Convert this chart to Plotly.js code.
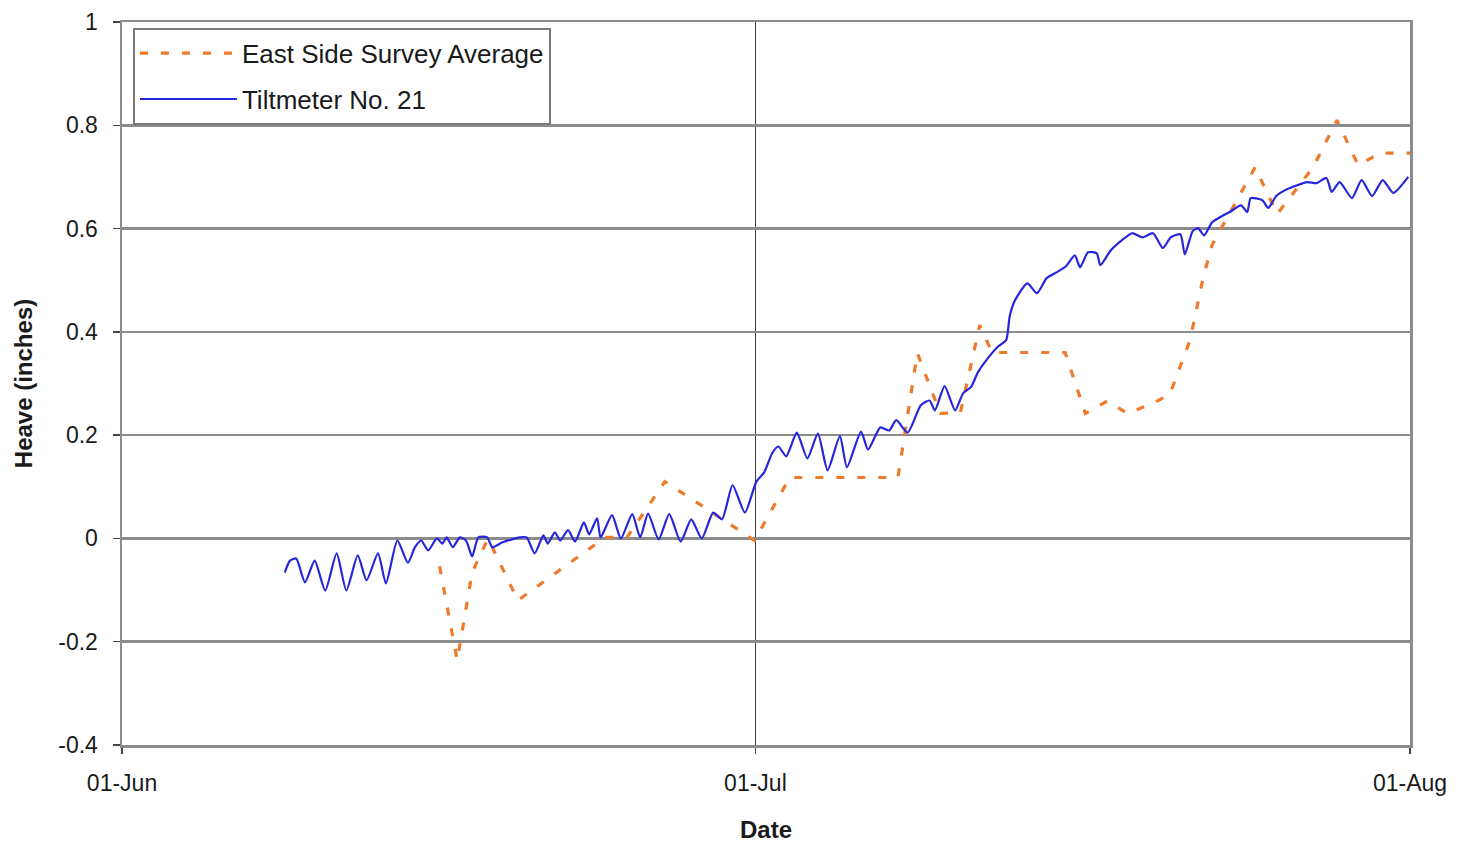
<!DOCTYPE html>
<html>
<head>
<meta charset="utf-8">
<script src="https://cdn.plot.ly/plotly-3.0.1.min.js"></script>
<style>
  html, body { margin: 0; padding: 0; background: #ffffff; }
  #chart { width: 1470px; height: 850px; }
</style>
</head>
<body>
<div id="chart"></div>
<script>
// Survey readings: average heave on the east side (inches)
const surveyTime = [
  '2004-06-16 01:00','2004-06-16 21:00','2004-06-17 14:00','2004-06-18 08:00','2004-06-19 18:00',
  '2004-06-23 21:00','2004-06-24 22:00','2004-06-26 17:00','2004-06-27 22:00','2004-06-30 23:00',
  '2004-07-02 15:00','2004-07-07 18:00','2004-07-08 16:00','2004-07-09 18:00','2004-07-10 17:00',
  '2004-07-11 15:00','2004-07-12 05:00','2004-07-15 16:00','2004-07-16 15:00','2004-07-17 16:00',
  '2004-07-18 15:00','2004-07-19 20:00','2004-07-20 15:00','2004-07-21 14:00','2004-07-22 05:00',
  '2004-07-22 15:00','2004-07-24 16:00','2004-07-25 17:00','2004-07-27 10:00','2004-07-28 13:00',
  '2004-07-29 13:00','2004-07-30 14:00','2004-08-01 00:00'
];
const surveyHeave = [
  -0.054, -0.236, -0.066, 0.000, -0.120,
   0.002,  0.002,  0.110, 0.078, -0.004,
   0.118,  0.118,  0.359, 0.242,  0.244,
   0.413,  0.360,  0.360, 0.242,  0.266,
   0.242,  0.262,  0.279, 0.384,  0.506,
   0.568,  0.719,  0.628, 0.719,  0.810,
   0.723,  0.746,  0.746
];

// Tiltmeter No. 21 record (daily highs and lows, inches)
const tiltTime = [
  '2004-06-08 17:00','2004-06-08 23:00','2004-06-09 06:00','2004-06-09 16:00','2004-06-10 03:00',
  '2004-06-10 15:00','2004-06-11 04:00','2004-06-11 15:00','2004-06-12 04:00','2004-06-12 14:00',
  '2004-06-13 03:00','2004-06-13 12:00','2004-06-14 01:00','2004-06-14 13:00','2004-06-14 21:00',
  '2004-06-15 04:00','2004-06-15 12:00','2004-06-15 22:00','2004-06-16 04:00','2004-06-16 09:00',
  '2004-06-16 16:00','2004-06-17 00:00','2004-06-17 07:00','2004-06-17 14:00','2004-06-17 21:00',
  '2004-06-18 07:00','2004-06-18 13:00','2004-06-19 00:00','2004-06-19 11:00','2004-06-19 20:00',
  '2004-06-20 04:00','2004-06-20 13:00','2004-06-20 23:00','2004-06-21 04:00','2004-06-21 12:00',
  '2004-06-21 18:00','2004-06-22 03:00','2004-06-22 11:00','2004-06-22 21:00','2004-06-23 03:00',
  '2004-06-23 12:00','2004-06-23 16:00','2004-06-24 05:00','2004-06-24 15:00','2004-06-25 04:00',
  '2004-06-25 13:00','2004-06-25 22:00','2004-06-26 10:00','2004-06-26 22:00','2004-06-27 11:00',
  '2004-06-27 23:00','2004-06-28 11:00','2004-06-29 00:00','2004-06-29 10:00','2004-06-29 22:00',
  '2004-06-30 12:00','2004-07-01 01:00','2004-07-01 10:00','2004-07-01 19:00','2004-07-02 02:00',
  '2004-07-02 11:00','2004-07-02 23:00','2004-07-03 11:00','2004-07-03 23:00','2004-07-04 10:00',
  '2004-07-05 00:00','2004-07-05 08:00','2004-07-06 00:00','2004-07-06 08:00','2004-07-06 22:00',
  '2004-07-07 08:00','2004-07-07 16:00','2004-07-08 05:00','2004-07-08 20:00','2004-07-09 06:00',
  '2004-07-09 12:00','2004-07-09 23:00','2004-07-10 11:00','2004-07-10 20:00','2004-07-11 05:00',
  '2004-07-11 13:00','2004-07-12 03:00','2004-07-12 12:00','2004-07-12 21:00','2004-07-13 01:00',
  '2004-07-13 07:00','2004-07-13 21:00','2004-07-14 08:00','2004-07-14 19:00','2004-07-15 08:00',
  '2004-07-15 17:00','2004-07-16 03:00','2004-07-16 09:00','2004-07-16 18:00','2004-07-17 04:00',
  '2004-07-17 08:00','2004-07-17 20:00','2004-07-18 09:00','2004-07-18 20:00','2004-07-19 08:00',
  '2004-07-19 20:00','2004-07-20 07:00','2004-07-20 16:00','2004-07-21 03:00','2004-07-21 08:00',
  '2004-07-21 17:00','2004-07-21 23:00','2004-07-22 06:00','2004-07-22 15:00','2004-07-23 00:00',
  '2004-07-23 11:00','2004-07-24 00:00','2004-07-24 07:00','2004-07-24 11:00','2004-07-25 00:00',
  '2004-07-25 07:00','2004-07-25 16:00','2004-07-26 04:00','2004-07-26 16:00','2004-07-27 03:00',
  '2004-07-27 14:00','2004-07-28 01:00','2004-07-28 07:00','2004-07-28 16:00','2004-07-29 06:00',
  '2004-07-29 17:00','2004-07-30 05:00','2004-07-30 17:00','2004-07-31 05:00','2004-07-31 22:00'
];
const tiltHeave = [
  -0.066, -0.043, -0.039, -0.085, -0.043,
  -0.101, -0.029, -0.101, -0.033, -0.081,
  -0.029, -0.087, -0.004, -0.047, -0.017,
  -0.004, -0.023,  0.000, -0.010,  0.002,
  -0.017,  0.002, -0.004, -0.035,  0.002,
   0.002, -0.017, -0.008, -0.002,  0.002,
   0.002, -0.029,  0.006, -0.010,  0.012,
  -0.004,  0.016, -0.006,  0.031,  0.008,
   0.039,  0.002,  0.045,  0.000,  0.047,
   0.002,  0.048, -0.002,  0.047, -0.006,
   0.037,  0.000,  0.050,  0.037,  0.103,
   0.050,  0.110,  0.128,  0.165,  0.178,
   0.159,  0.205,  0.155,  0.203,  0.132,
   0.198,  0.138,  0.207,  0.172,  0.215,
   0.209,  0.229,  0.205,  0.258,  0.267,
   0.248,  0.295,  0.248,  0.281,  0.293,
   0.322,  0.355,  0.372,  0.384,  0.430,
   0.461,  0.494,  0.475,  0.504,  0.517,
   0.527,  0.548,  0.525,  0.554,  0.552,
   0.529,  0.558,  0.578,  0.591,  0.583,
   0.591,  0.562,  0.583,  0.589,  0.550,
   0.595,  0.601,  0.587,  0.612,  0.622,
   0.632,  0.645,  0.632,  0.659,  0.655,
   0.640,  0.663,  0.676,  0.684,  0.690,
   0.688,  0.698,  0.671,  0.690,  0.659,
   0.694,  0.663,  0.694,  0.669,  0.700
];

// Axis ticks
const dateTicks = ['2004-06-01', '2004-07-01', '2004-08-01'];
const heaveTicks = [-0.4, -0.2, 0, 0.2, 0.4, 0.6, 0.8, 1];
const heaveTickText = ['-0.4', '-0.2', '0', '0.2', '0.4', '0.6', '0.8', '1'];

const FONT = 'Liberation Sans, Arial, Helvetica, sans-serif';

const traces = [
  {
    name: 'East Side Survey Average',
    x: surveyTime,
    y: surveyHeave,
    type: 'scatter',
    mode: 'lines',
    legendgroup: 'survey',
    line: { color: '#EE7A2C', width: 3.2, dash: '8px,13px' },
    hoverinfo: 'x+y'
  },
  {
    name: 'Tiltmeter No. 21',
    x: tiltTime,
    y: tiltHeave,
    type: 'scatter',
    mode: 'lines',
    legendgroup: 'tilt',
    line: { color: '#2626DC', width: 2.2, shape: 'spline', smoothing: 0.6 },
    hoverinfo: 'x+y'
  }
];

const layout = {
  width: 1470,
  height: 850,
  margin: { l: 122, r: 60, t: 22, b: 105 },
  paper_bgcolor: '#ffffff',
  plot_bgcolor: '#ffffff',
  font: { family: FONT, color: '#1a1a1a', size: 23 },
  showlegend: true,
  legend: {
    x: 0.0085, y: 0.992, xanchor: 'left', yanchor: 'top',
    bgcolor: '#ffffff', bordercolor: '#7a7a7a', borderwidth: 2,
    font: { family: FONT, size: 26, color: '#1a1a1a' },
    itemwidth: 97,
    traceorder: 'grouped',
    tracegroupgap: 9
  },
  xaxis: {
    type: 'date',
    range: ['2004-06-01', '2004-08-01'],
    tickmode: 'array',
    tickvals: dateTicks,
    tickformat: '%d-%b',
    ticks: 'outside', ticklen: 6, tickcolor: '#444', tickwidth: 1.5,
    ticklabelstandoff: 10,
    tickfont: { family: FONT, size: 23, color: '#1a1a1a' },
    showgrid: true, gridcolor: '#3c3c3c', gridwidth: 1.5,
    showline: true, mirror: true, linecolor: '#8c8c8c', linewidth: 2.5,
    zeroline: false,
    automargin: false,
    title: { text: 'Date', standoff: 26, font: { family: FONT, size: 24, color: '#1a1a1a', weight: 'bold' } }
  },
  yaxis: {
    range: [-0.4, 1],
    tickmode: 'array',
    tickvals: heaveTicks,
    ticktext: heaveTickText,
    ticks: 'outside', ticklen: 7, tickcolor: '#444', tickwidth: 1.5,
    ticklabelstandoff: 10,
    tickfont: { family: FONT, size: 23, color: '#1a1a1a' },
    showgrid: true, gridcolor: '#8c8c8c', gridwidth: 2.5,
    showline: true, mirror: true, linecolor: '#8c8c8c', linewidth: 2.5,
    zeroline: false,
    automargin: false,
    title: { text: 'Heave (inches)', standoff: 19, font: { family: FONT, size: 24, color: '#1a1a1a', weight: 'bold' } }
  }
};

Plotly.newPlot('chart', traces, layout, { displayModeBar: false, staticPlot: true });
</script>
</body>
</html>
